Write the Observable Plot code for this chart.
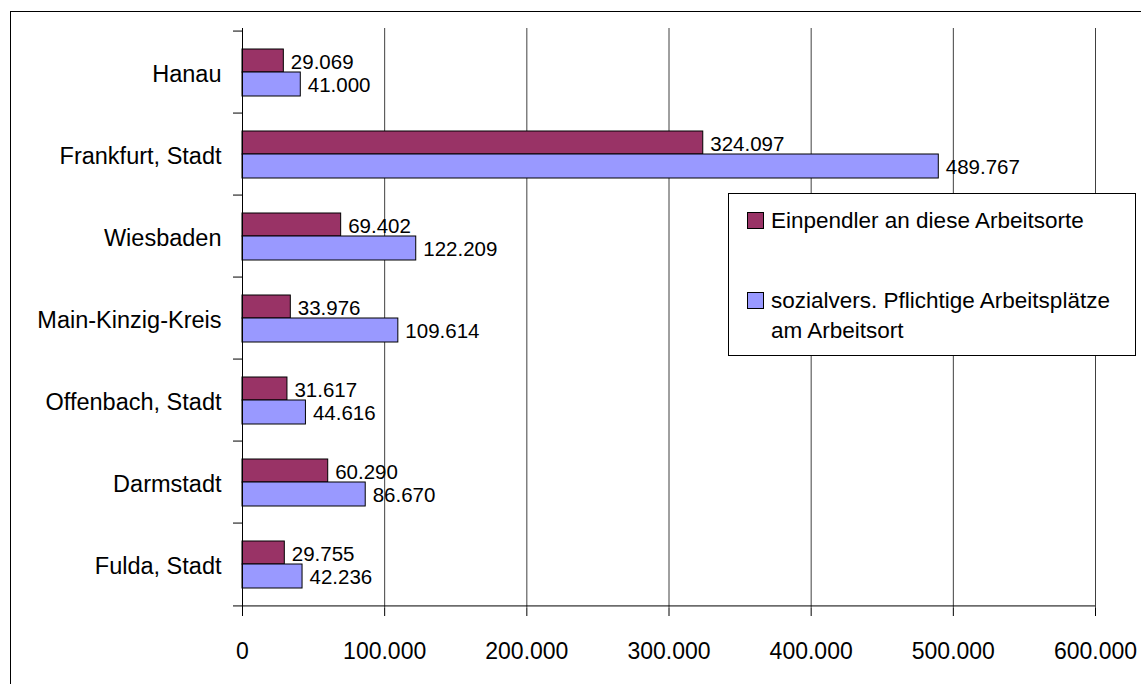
<!DOCTYPE html>
<html><head><meta charset="utf-8">
<script src="https://cdn.jsdelivr.net/npm/d3@7"></script>
<script src="https://cdn.jsdelivr.net/npm/@observablehq/plot@0.6"></script>
<style>
html,body{margin:0;padding:0;background:#fff;overflow:hidden;}
#wrap{position:relative;width:1141px;height:684px;font-family:"Liberation Sans",Arial,sans-serif;}
#chart{position:absolute;left:0;top:0;}
#border{position:absolute;left:10px;top:11px;width:1200px;height:800px;border:1px solid #000;pointer-events:none;}
#legend{position:absolute;left:728px;top:193px;width:406px;height:161px;border:1px solid #000;background:#fff;font-size:22.5px;color:#000;}
.sw{position:absolute;left:18px;width:15px;height:15px;border:1px solid #000;}
.lt{position:absolute;left:42px;line-height:29.5px;white-space:nowrap;}
</style>
</head><body>
<div id="wrap"><div id="chart"></div><div id="border"></div><div id="legend"></div></div>
<script>
const categories = ["Hanau","Frankfurt, Stadt","Wiesbaden","Main-Kinzig-Kreis","Offenbach, Stadt","Darmstadt","Fulda, Stadt"];
const einpendler = [29069,324097,69402,33976,31617,60290,29755];
const arbeitsplaetze = [41000,489767,122209,109614,44616,86670,42236];
const xTicks = [0,100000,200000,300000,400000,500000,600000];
const seriesNames = ["Einpendler an diese Arbeitsorte","sozialvers. Pflichtige Arbeitsplätze<br>am Arbeitsort"];
const seriesColors = ["#993366","#9999FF"];

const rows = categories.map((c,i)=>({cat:c, a:einpendler[i], b:arbeitsplaetze[i]}));
const fmt = d => d3.format(",")(d).replace(/,/g,".");
const half = (608-28)/7/2;

const chart = Plot.plot({
  width:1141, height:684,
  marginLeft:242, marginRight:46, marginTop:28, marginBottom:76,
  style:{fontFamily:"'Liberation Sans', Arial, sans-serif", fontSize:"22px", color:"#000", background:"transparent"},
  x:{domain:[0,600000], label:null},
  y:{domain:categories, padding:0, label:null},
  marks:[
    Plot.gridX(xTicks.slice(1), {stroke:"#404040", strokeOpacity:1}),
    Plot.barX(rows,{y:"cat", x:"a", fill:seriesColors[0], stroke:"#000", insetTop:18, insetBottom:41}),
    Plot.barX(rows,{y:"cat", x:"b", fill:seriesColors[1], stroke:"#000", insetTop:41, insetBottom:17}),
    Plot.text(rows,{y:"cat", x:"a", text:d=>fmt(d.a), dx:7, dy:-10.5, textAnchor:"start", fontSize:20.5}),
    Plot.text(rows,{y:"cat", x:"b", text:d=>fmt(d.b), dx:7, dy:12.5, textAnchor:"start", fontSize:20.5}),
    Plot.ruleX([0], {stroke:"#000"}),
    Plot.gridY([categories[categories.length-1]], {dy:half, stroke:"#000", strokeOpacity:1, insetLeft:-9}),
    Plot.axisY({tickSize:9, dy:-half, tickFormat:()=>"", stroke:"#000", label:null}),
    Plot.axisY({tickSize:0, tickPadding:21, fontSize:23.5, dy:1.5, label:null}),
    Plot.axisX(xTicks, {tickSize:8, tickPadding:26, tickFormat:fmt, fontSize:23, label:null})
  ]
});
document.getElementById("chart").appendChild(chart);

const legend = document.getElementById("legend");
const swTops = [18, 98];
const txTops = [12.4, 92.4];
seriesNames.forEach((n,i)=>{
  const s = document.createElement("div");
  s.className = "sw"; s.style.top = swTops[i]+"px"; s.style.background = seriesColors[i];
  legend.appendChild(s);
  const t = document.createElement("div");
  t.className = "lt"; t.style.top = txTops[i]+"px"; t.innerHTML = n;
  legend.appendChild(t);
});
</script>
</body></html>
